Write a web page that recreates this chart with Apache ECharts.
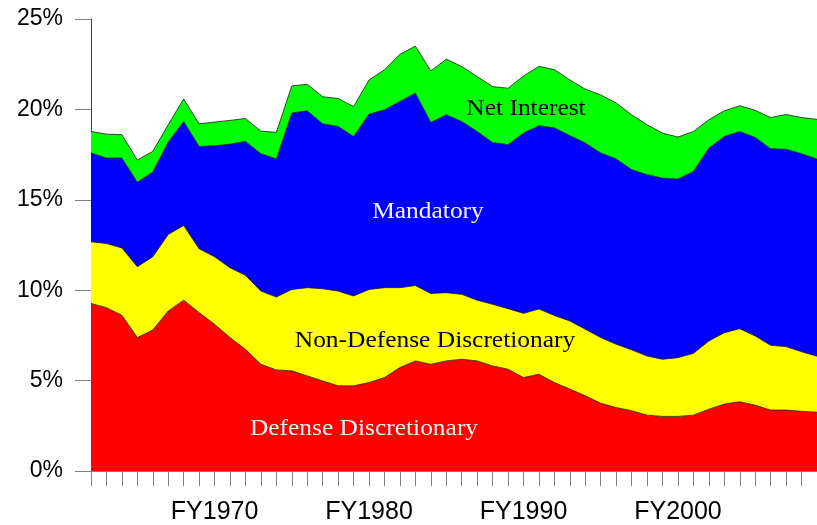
<!DOCTYPE html>
<html>
<head>
<meta charset="utf-8">
<script src="https://cdn.jsdelivr.net/npm/echarts@6/dist/echarts.min.js"></script>
<style>
html,body{margin:0;padding:0;background:#fff;}
#chart{width:817px;height:525px;}
</style>
</head>
<body>
<div id="chart"></div>
<script>
const years = [1962,1963,1964,1965,1966,1967,1968,1969,1970,1971,1972,1973,1974,1975,1976,1977,1978,1979,1980,1981,1982,1983,1984,1985,1986,1987,1988,1989,1990,1991,1992,1993,1994,1995,1996,1997,1998,1999,2000,2001,2002,2003,2004,2005,2006,2007,2008,2009];
const defense = [9.27,9.03,8.61,7.38,7.80,8.85,9.45,8.76,8.11,7.38,6.73,5.90,5.59,5.54,5.26,4.98,4.71,4.71,4.89,5.17,5.72,6.09,5.90,6.09,6.18,6.09,5.81,5.63,5.17,5.35,4.89,4.53,4.16,3.75,3.51,3.33,3.09,3.02,3.02,3.09,3.42,3.70,3.83,3.64,3.37,3.37,3.30,3.25];
const nonDefense = [3.41,3.55,3.73,3.92,4.05,4.23,4.13,3.53,3.74,3.86,4.09,4.05,4.03,4.50,4.88,5.10,5.24,4.97,5.15,4.97,4.42,4.17,3.92,3.77,3.59,3.36,3.41,3.35,3.55,3.61,3.71,3.77,3.68,3.63,3.50,3.37,3.27,3.16,3.25,3.42,3.77,3.95,4.04,3.83,3.58,3.51,3.30,3.10];
const mandatory = [4.91,4.73,4.97,4.67,4.69,5.12,5.75,5.66,6.14,6.84,7.41,7.60,7.64,9.76,9.78,9.12,9.11,8.82,9.70,9.84,10.30,10.64,9.46,9.84,9.56,9.33,8.95,9.07,9.97,10.14,10.38,10.25,10.30,10.21,10.25,9.97,10.03,10.02,9.88,10.06,10.67,10.85,10.91,10.98,10.88,10.91,10.95,10.90];
const netInterest = [1.19,1.32,1.29,1.23,1.14,0.95,1.25,1.25,1.31,1.31,1.27,1.25,1.47,1.50,1.47,1.50,1.54,1.66,1.89,2.21,2.61,2.60,2.85,3.08,3.04,3.04,3.09,3.12,3.16,3.28,3.22,3.08,2.98,3.21,3.09,3.03,2.76,2.49,2.32,2.21,1.57,1.42,1.42,1.50,1.72,1.93,2.00,2.20];
const categories = years.map(y => 'FY' + y);
const yTicks = [0,5,10,15,20,25];

const chart = echarts.init(document.getElementById('chart'), null, {renderer:'canvas'});
function areaSeries(name, data, color){
  return {
    name: name, type: 'line', stack: 'total', data: data,
    symbol: 'none', smooth: false,
    lineStyle: {color: '#1a1a1a', width: 0.8},
    areaStyle: {color: color, opacity: 1},
    itemStyle: {color: color},
    z: 2
  };
}
const serifFont = '24px "Liberation Serif", "Times New Roman", serif';
function label(text, x, y, fill){
  return {type:'text', x:x, y:y, scaleX:1.06, z:10,
    style:{text:text, font:serifFont, fill:fill, align:'center', verticalAlign:'middle'}};
}
chart.setOption({
  animation: false,
  backgroundColor: '#ffffff',
  grid: {left: 91, top: 19, bottom: 53, right: -10, containLabel: false},
  xAxis: {
    type: 'category', data: categories, boundaryGap: false,
    axisLine: {show: true, lineStyle: {color: '#808080', width: 1}},
    axisTick: {show: true, interval: 0, length: 15, lineStyle: {color: '#808080', width: 1}},
    axisLabel: {
      interval: function(i, v){ return years[i] % 10 === 0; },
      margin: 29, color: '#000', fontSize: 25,
      fontFamily: '"Liberation Sans", Arial, sans-serif'
    },
    splitLine: {show: false}
  },
  yAxis: {
    type: 'value', min: yTicks[0], max: yTicks[yTicks.length-1], interval: 5,
    axisLine: {show: true, lineStyle: {color: '#404040', width: 1}},
    axisTick: {show: true, length: 16, lineStyle: {color: '#808080', width: 1}},
    axisLabel: {formatter: '{value}%', margin: 28, color: '#000', fontSize: 23,
      fontFamily: '"Liberation Sans", Arial, sans-serif'},
    splitLine: {show: false}
  },
  series: [
    areaSeries('Defense Discretionary', defense, '#ff0000'),
    areaSeries('Non-Defense Discretionary', nonDefense, '#ffff00'),
    areaSeries('Mandatory', mandatory, '#0000ff'),
    areaSeries('Net Interest', netInterest, '#00ff00')
  ],
  graphic: [
    label('Net Interest', 526, 109, '#000'),
    label('Mandatory', 428, 212, '#f4f4f4'),
    label('Non-Defense Discretionary', 435, 341, '#000'),
    label('Defense Discretionary', 364, 429, '#f4f4f4')
  ]
});
</script>
</body>
</html>
